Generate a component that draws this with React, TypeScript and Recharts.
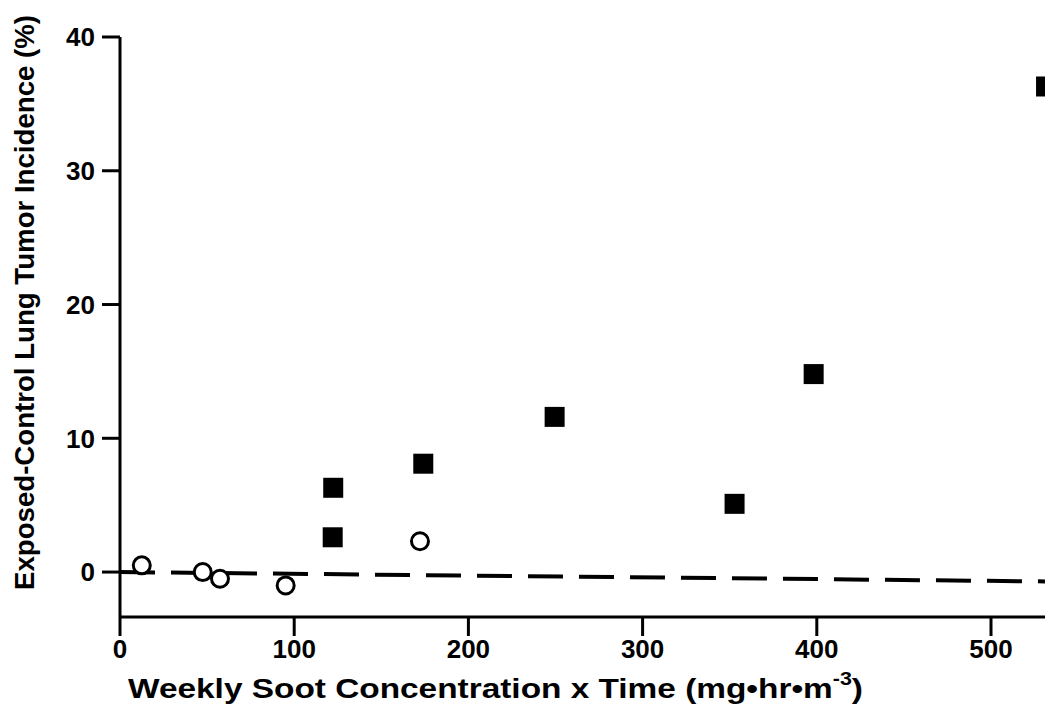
import React from 'react';
import { ScatterChart, Scatter, XAxis, YAxis, Label } from 'recharts';

// values
const controlX = [12.5, 47.5, 57.4, 95.1, 172.2];
const controlY = [0.5, 0.0, -0.5, -1.0, 2.3];

const exposedX = [122.4, 122.1, 174.1, 249.5, 352.8, 398.2, 531.6];
const exposedY = [6.3, 2.6, 8.1, 11.6, 5.1, 14.8, 36.3];

const fitX = [0, 531];
const fitY = [0, -0.7];

const xTicks = [0, 100, 200, 300, 400, 500];
const yTicks = [0, 10, 20, 30, 40];

const control = controlX.map((x, i) => ({ x, y: controlY[i] }));
const exposed = exposedX.map((x, i) => ({ x, y: exposedY[i] }));
const fit = fitX.map((x, i) => ({ x, y: fitY[i] }));

const FONT = '"Liberation Sans", Arial, sans-serif';

const OpenCircle = (props: any) => (
  <circle cx={props.cx} cy={props.cy} r={8.5} fill="#fff" stroke="#000" strokeWidth={3} />
);

const FilledSquare = (props: any) => (
  <rect x={props.cx - 10} y={props.cy - 10} width={20} height={20} fill="#000" />
);

const NoDot = () => <g />;

// titles squeezed to the condensed width of the original
const XTitle = () => (
  <text
    x={128}
    y={698}
    textLength={735}
    lengthAdjust="spacingAndGlyphs"
    fontFamily={FONT}
    fontWeight="bold"
    fontSize={28}
    fill="#000"
  >
    Weekly Soot Concentration x Time (mg•hr•m
    <tspan dy={-13} fontSize={18}>-3</tspan>
    <tspan dy={13}>)</tspan>
  </text>
);

const YTitle = () => (
  <text
    x={0}
    y={0}
    transform="translate(34 590) rotate(-90)"
    textLength={575}
    lengthAdjust="spacingAndGlyphs"
    fontFamily={FONT}
    fontWeight="bold"
    fontSize={28}
    fill="#000"
  >
    Exposed-Control Lung Tumor Incidence (%)
  </text>
);

export default function App() {
  return (
    <div style={{ position: 'absolute', left: 0, top: 0, width: 1045, height: 709, background: '#fff' }}>
      <ScatterChart width={1045} height={709} margin={{ top: 37, right: 0, bottom: 0, left: 0 }}>
        <XAxis
          type="number"
          dataKey="x"
          domain={[0, 531]}
          ticks={xTicks}
          allowDataOverflow
          height={92}
          tickSize={19}
          tickMargin={4}
          axisLine={{ stroke: '#000', strokeWidth: 3 }}
          tickLine={{ stroke: '#000', strokeWidth: 3 }}
          tick={{ fill: '#000', fontSize: 26, fontWeight: 'bold', fontFamily: FONT }}
        >
          <Label content={<XTitle />} />
        </XAxis>
        <YAxis
          type="number"
          dataKey="y"
          domain={[-3.36, 40]}
          ticks={yTicks}
          allowDataOverflow
          width={120}
          tickSize={18}
          tickMargin={7}
          axisLine={{ stroke: '#000', strokeWidth: 3 }}
          tickLine={{ stroke: '#000', strokeWidth: 3 }}
          tick={{ fill: '#000', fontSize: 26, fontWeight: 'bold', fontFamily: FONT }}
        >
          <Label content={<YTitle />} />
        </YAxis>
        <Scatter
          data={fit}
          line={{ stroke: '#000', strokeWidth: 4, strokeDasharray: '35 16' }}
          shape={<NoDot />}
          isAnimationActive={false}
        />
        <Scatter data={control} shape={<OpenCircle />} isAnimationActive={false} />
        <Scatter data={exposed} shape={<FilledSquare />} isAnimationActive={false} />
      </ScatterChart>
    </div>
  );
}
